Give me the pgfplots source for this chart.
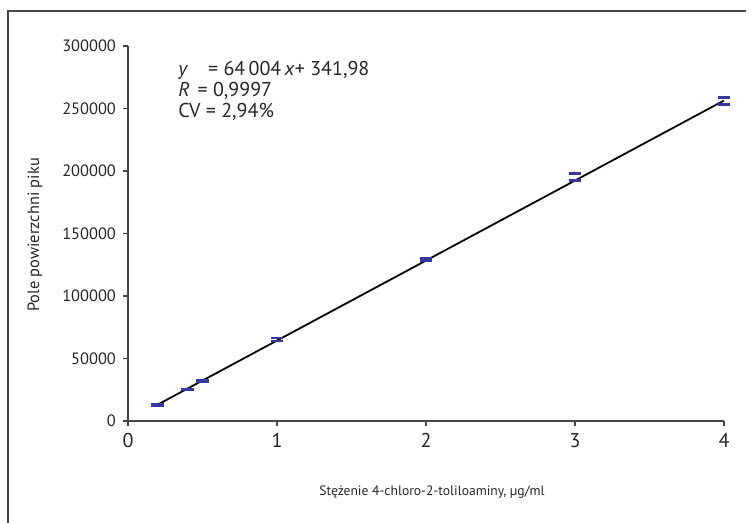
\documentclass[border=0pt]{standalone}
\usepackage{pgfplots}
\pgfplotsset{compat=1.18}
\usepackage{fontspec}
\setmainfont{PT Sans}
\definecolor{barblue}{RGB}{55,55,160}
\definecolor{axgray}{RGB}{70,70,70}

\begin{document}
\begin{tikzpicture}
\useasboundingbox (-64pt,-51pt) rectangle (313pt,210.5pt);
% frame of the scanned figure
\draw[axgray, line width=0.6pt] (-60pt,-51pt) -- (-60pt,205pt) -- (309pt,205pt);
\begin{axis}[
    at={(0,0)}, anchor=south west,
    scale only axis,
    width=298pt, height=187.5pt,
    xmin=0, xmax=4, ymin=0, ymax=300000,
    xtick={0,1,2,3,4},
    ytick={0,50000,100000,150000,200000,250000,300000},
    xticklabels={0,1,2,3,4},
    yticklabels={0,50000,100000,150000,200000,250000,300000},
    axis lines=left,
    axis line style={-, axgray, line width=0.6pt},
    tick style={axgray, line width=0.6pt},
    tick align=outside,
    major tick length=2.5pt,
    scaled y ticks=false,
    xticklabel style={font=\fontsize{10}{11}\selectfont, text=black!85},
    yticklabel style={font=\fontsize{8.2}{9}\selectfont, text=black!85},
    xlabel={Stężenie 4-chloro-2-toliloaminy, µg/ml},
    ylabel={Pole powierzchni piku},
    xlabel style={at={(axis description cs:0.51,0)}, anchor=center, yshift=-35.5pt,
        font=\fontsize{6.8}{8}\selectfont, text=black!85},
    ylabel style={at={(axis description cs:-0.156,0.496)}, anchor=center,
        font=\fontsize{8.2}{9}\selectfont, text=black!85},
    clip=false,
]
% regression line
\addplot[black, line width=0.9pt] coordinates {(0.2,13143) (4,256358)};
% mean values with error bars (only caps visible)
\addplot[draw=none, mark=none,
    error bars/.cd, y dir=both, y explicit,
    error bar style={barblue, line width=0.9pt, draw opacity=0},
    error mark=|, error mark options={barblue, line width=1.4pt, mark size=3.2pt, draw opacity=1}]
    coordinates {
    (0.2,13000) +- (0,300)
    (0.4,25200) +- (0,300)
    (0.5,32300) +- (0,400)
    (1,65200) +- (0,1200)
    (2,129300) +- (0,900)
    (3,195400) +- (0,2900)
    (4,255800) +- (0,2800)
};
\node[anchor=north west, align=left, inner sep=0pt, font=\fontsize{10}{10.6}\selectfont, text=black!85]
    at (axis cs:0.335,288500)
    {\textit{y}\hspace{1em}= 64\,004\,\textit{x}+ 341,98\\
     \textit{R}\hspace{0.4em}= 0,9997\\
     CV = 2,94\%};
\end{axis}
\end{tikzpicture}
\end{document}
